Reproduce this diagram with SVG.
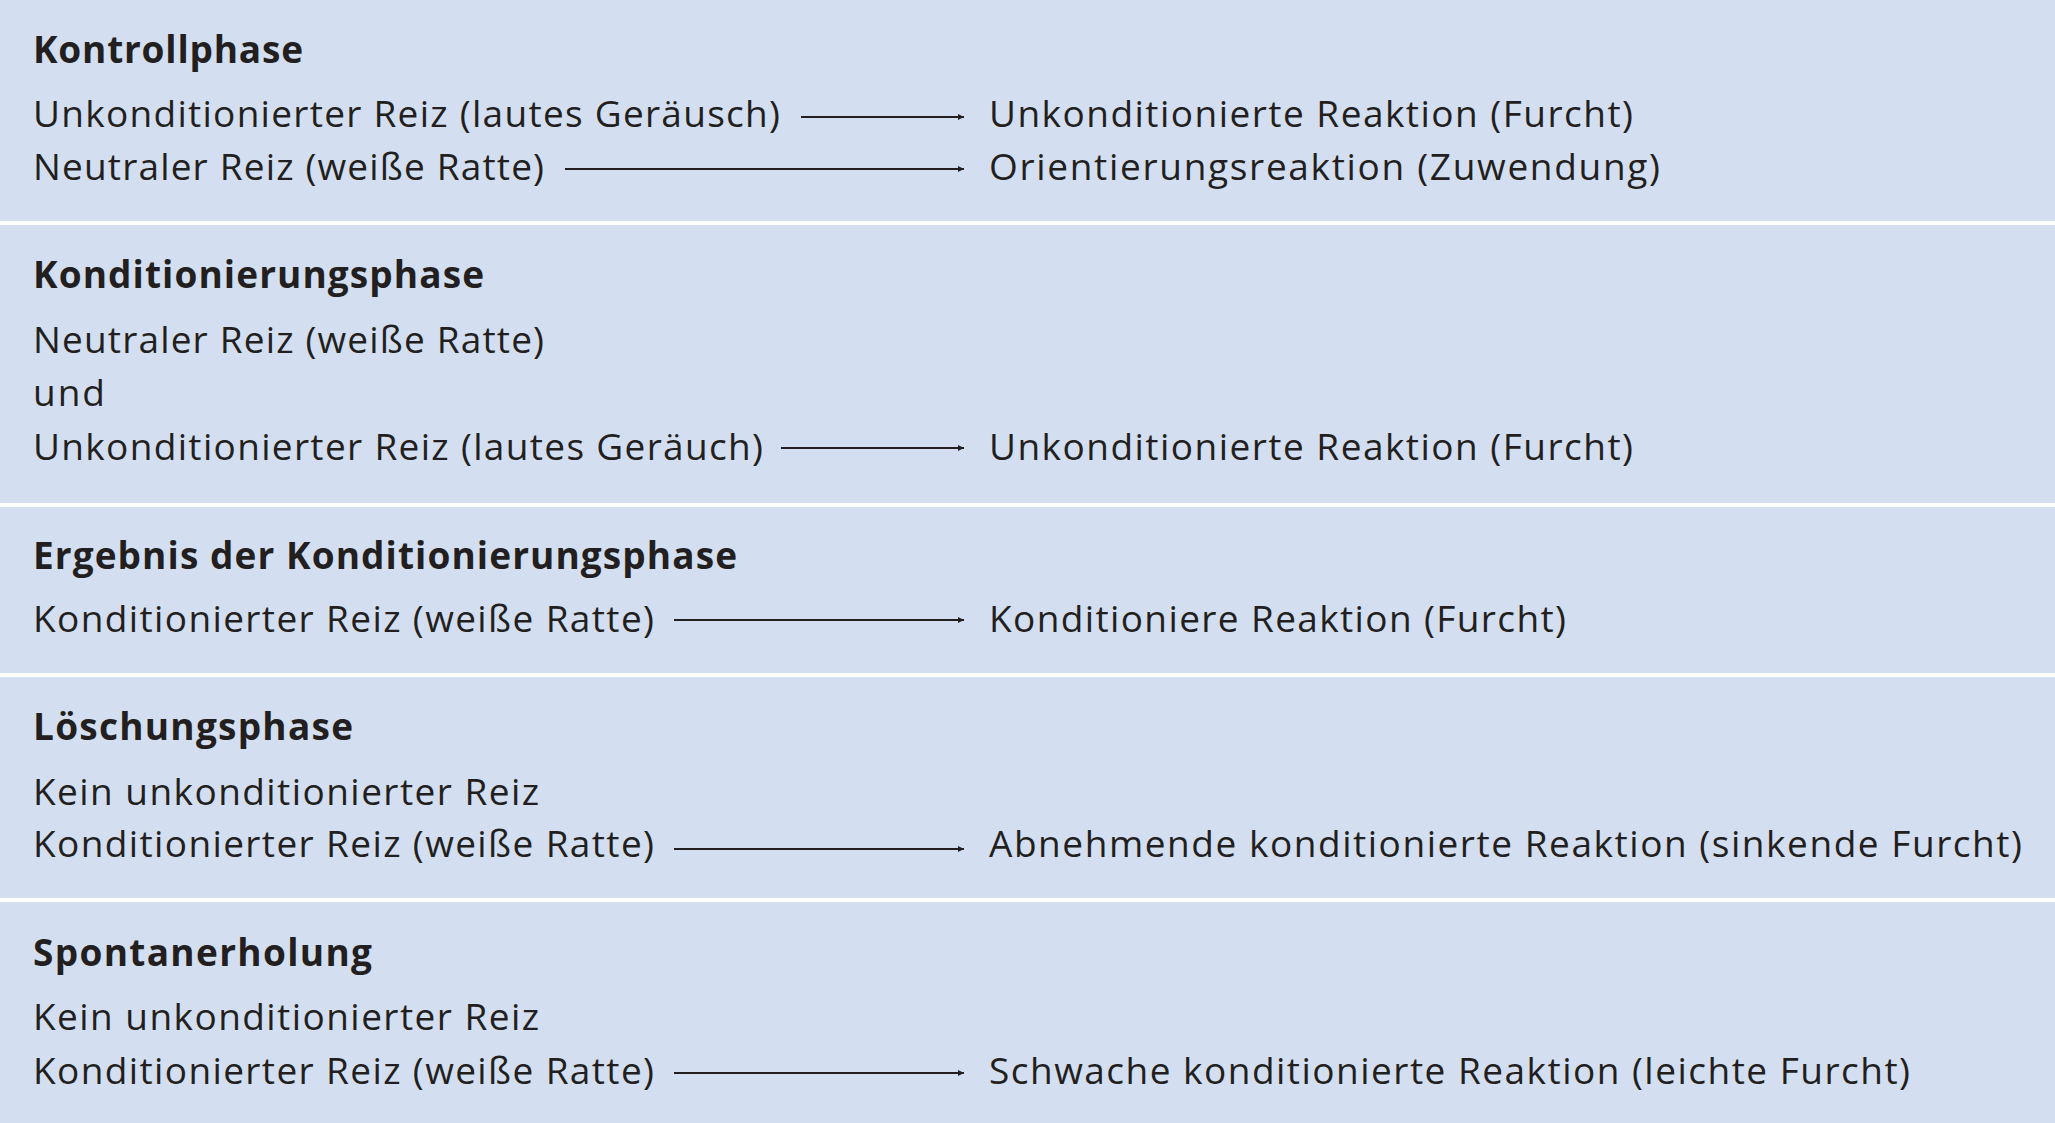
<svg xmlns="http://www.w3.org/2000/svg" width="2055" height="1123" viewBox="0 0 2055 1123">
<style>
text{font-family:"Open Sans","Liberation Sans",sans-serif;font-size:37px;fill:#231f20}
.h{font-weight:bold}
.c line{stroke:#231f20;stroke-width:2}
</style>
<defs><marker id="a" viewBox="0 0 10 10" refX="10" refY="5" markerWidth="6" markerHeight="6" markerUnits="userSpaceOnUse" orient="auto"><path d="M0,0L10,5L0,10z" fill="#231f20"/></marker></defs>
<rect width="2055" height="1123" fill="#d3dff0"/>
<g fill="#fff"><rect y="221" width="2055" height="4"/><rect y="503" width="2055" height="4"/><rect y="673" width="2055" height="4"/><rect y="898" width="2055" height="4"/></g>
<g id="p1"><text class="h" x="33" y="63" textLength="270">Kontrollphase</text>
<text x="33" y="127" textLength="747">Unkonditionierter Reiz (lautes Geräusch)</text>
<text x="989" y="127" textLength="644">Unkonditionierte Reaktion (Furcht)</text>
<text x="33" y="180" textLength="511">Neutraler Reiz (weiße Ratte)</text>
<text x="989" y="180" textLength="671">Orientierungsreaktion (Zuwendung)</text></g>
<g id="p2"><text class="h" x="33" y="288" textLength="451">Konditionierungsphase</text>
<text x="33" y="353" textLength="511">Neutraler Reiz (weiße Ratte)</text>
<text x="33" y="406" textLength="72">und</text>
<text x="33" y="460" textLength="730">Unkonditionierter Reiz (lautes Geräuch)</text>
<text x="989" y="460" textLength="644">Unkonditionierte Reaktion (Furcht)</text></g>
<g id="p3"><text class="h" x="33" y="569" textLength="704">Ergebnis der Konditionierungsphase</text>
<text x="33" y="632" textLength="621">Konditionierter Reiz (weiße Ratte)</text>
<text x="989" y="632" textLength="577">Konditioniere Reaktion (Furcht)</text></g>
<g id="p4"><text class="h" x="33" y="740" textLength="320">Löschungsphase</text>
<text x="33" y="805" textLength="506">Kein unkonditionierter Reiz</text>
<text x="33" y="857" textLength="621">Konditionierter Reiz (weiße Ratte)</text>
<text x="989" y="857" textLength="1033">Abnehmende konditionierte Reaktion (sinkende Furcht)</text></g>
<g id="p5"><text class="h" x="33" y="966" textLength="339">Spontanerholung</text>
<text x="33" y="1030" textLength="506">Kein unkonditionierter Reiz</text>
<text x="33" y="1084" textLength="621">Konditionierter Reiz (weiße Ratte)</text>
<text x="989" y="1084" textLength="921">Schwache konditionierte Reaktion (leichte Furcht)</text></g>
<g class="c" id="connectors">
<line x1="801" y1="117" x2="964" y2="117" marker-end="url(#a)"/>
<line x1="565" y1="169" x2="964" y2="169" marker-end="url(#a)"/>
<line x1="781" y1="448" x2="964" y2="448" marker-end="url(#a)"/>
<line x1="674" y1="620" x2="964" y2="620" marker-end="url(#a)"/>
<line x1="674" y1="849" x2="964" y2="849" marker-end="url(#a)"/>
<line x1="674" y1="1073" x2="964" y2="1073" marker-end="url(#a)"/>
</g>
</svg>
